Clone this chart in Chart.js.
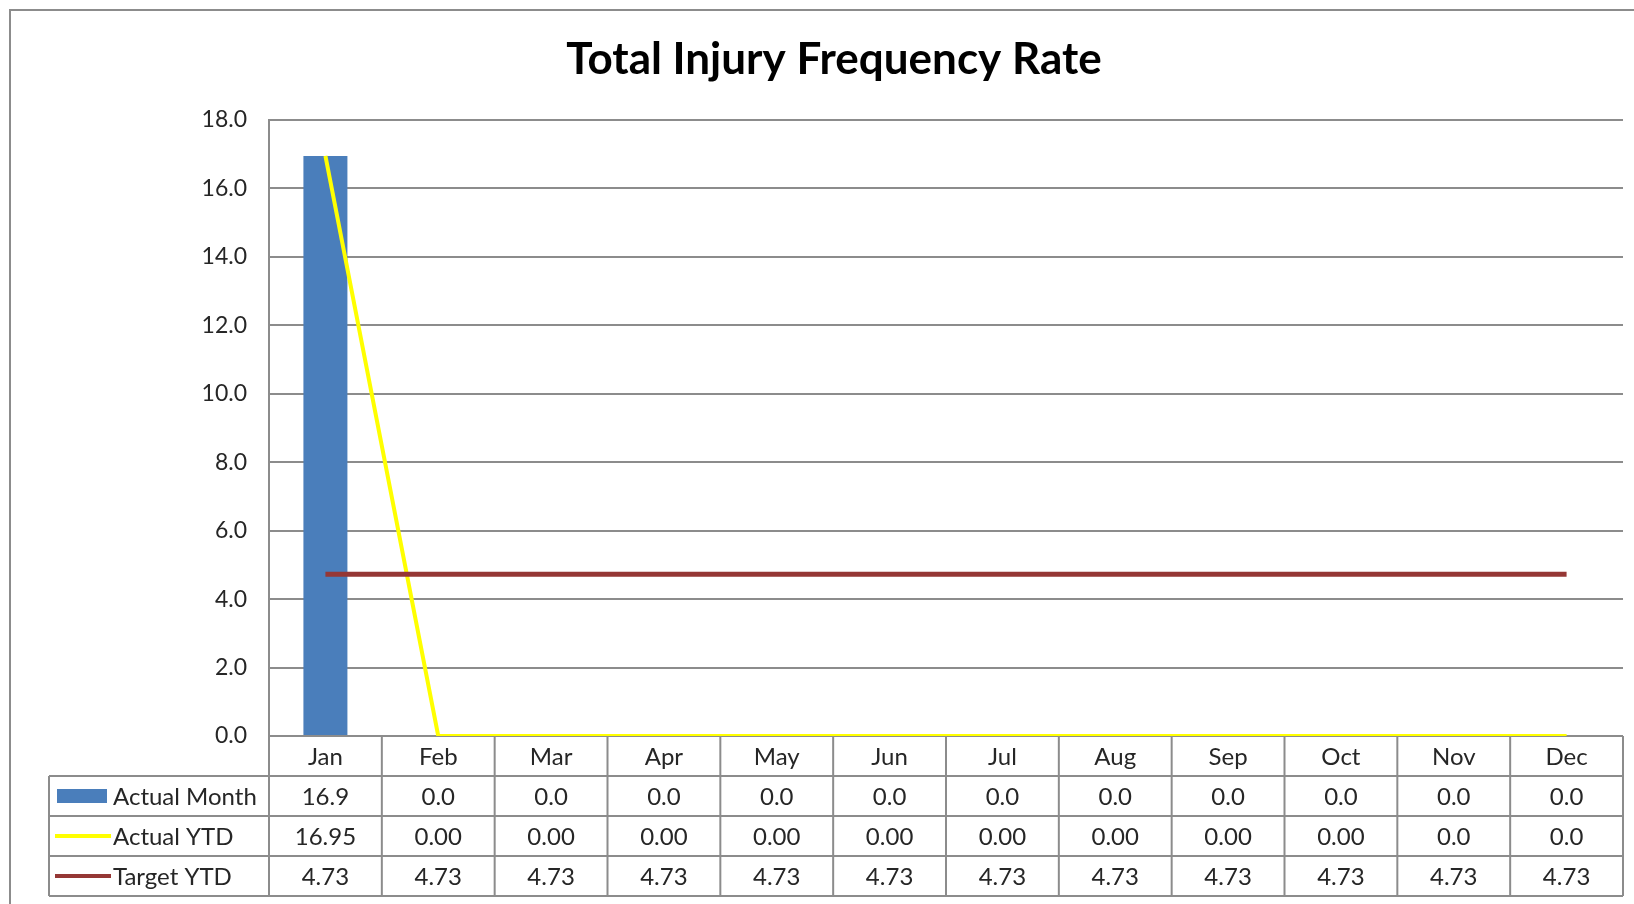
<!DOCTYPE html>
<html>
<head>
<meta charset="utf-8">
<title>Total Injury Frequency Rate</title>
<script src="https://cdn.jsdelivr.net/npm/chart.js@4/dist/chart.umd.min.js"></script>
<style>
  html, body { margin: 0; padding: 0; background: #fff; }
  #wrap { width: 1634px; height: 904px; }
</style>
</head>
<body>
<div id="wrap"><canvas id="tifrChart" width="1634" height="904"></canvas></div>
<script>
// data
const categories = ['Jan', 'Feb', 'Mar', 'Apr', 'May', 'Jun', 'Jul', 'Aug', 'Sep', 'Oct', 'Nov', 'Dec'];
const actualMonth = [16.95, 0, 0, 0, 0, 0, 0, 0, 0, 0, 0, 0];
const actualYtd = [16.95, 0, 0, 0, 0, 0, 0, 0, 0, 0, 0, 0];
const targetYtd = [4.73, 4.73, 4.73, 4.73, 4.73, 4.73, 4.73, 4.73, 4.73, 4.73, 4.73, 4.73];
const ytdDecimals = [2, 2, 2, 2, 2, 2, 2, 2, 2, 2, 1, 1];
const yMin = 0, yMax = 18, yStep = 2;

const FONT = 'Lato, "Open Sans", sans-serif';
const GRID = '#8c8c8c';
const BLUE = '#4a7ebb';
const YELLOW = '#ffff00';
const RED = '#953735';

// ==========================
// title, outer frame and data table
// ==========================
const tablePlugin = {
    id: 'dataTable',
    beforeDraw(chart) {
        const { ctx } = chart;
        ctx.save();
        ctx.strokeStyle = GRID;
        ctx.lineWidth = 2;
        ctx.beginPath();
        ctx.moveTo(10, 904);
        ctx.lineTo(10, 10);
        ctx.lineTo(1634, 10);
        ctx.stroke();

        ctx.fillStyle = '#000';
        ctx.font = 'bold 44px ' + FONT;
        ctx.textAlign = 'center';
        ctx.textBaseline = 'middle';
        ctx.fillText('Total Injury Frequency Rate', 834, 60);
        ctx.restore();
    },
    afterDatasetsDraw(chart) {
        const { ctx, chartArea } = chart;
        const x = chart.scales.x;
        const colW = (x.right - x.left) / categories.length;
        const top = chartArea.bottom;
        const rowH = 40;
        const legendLeft = 49;
        const bottom = top + rowH * 4;

        ctx.save();
        ctx.strokeStyle = GRID;
        ctx.lineWidth = 2;
        ctx.beginPath();
        // column lines
        for (let i = 0; i <= categories.length; i++) {
            const cx = x.left + i * colW;
            ctx.moveTo(cx, top);
            ctx.lineTo(cx, bottom);
        }
        // row lines
        for (let r = 1; r <= 4; r++) {
            const ry = top + r * rowH;
            ctx.moveTo(legendLeft, ry);
            ctx.lineTo(x.right, ry);
        }
        ctx.moveTo(legendLeft, top + rowH);
        ctx.lineTo(legendLeft, bottom);
        ctx.stroke();

        ctx.fillStyle = '#262626';
        ctx.font = '24px ' + FONT;
        ctx.textAlign = 'center';
        ctx.textBaseline = 'middle';

        const rows = [
            categories,
            actualMonth.map(v => v.toFixed(1)),
            actualYtd.map((v, i) => v.toFixed(ytdDecimals[i])),
            targetYtd.map(v => v.toFixed(2))
        ];
        rows.forEach((cells, r) => {
            const cy = top + r * rowH + rowH / 2 + 1;
            cells.forEach((txt, i) => {
                ctx.fillText(txt, x.getPixelForValue(i), cy);
            });
        });

        // legend keys
        const keyL = 57, keyR = 107;
        chart.data.datasets.forEach((ds, k) => {
            const cy = top + (k + 1) * rowH + rowH / 2;
            if (ds.type === 'bar') {
                ctx.fillStyle = ds.backgroundColor;
                ctx.fillRect(keyL, cy - 7, keyR - keyL, 14);
            } else {
                ctx.strokeStyle = ds.borderColor;
                ctx.lineWidth = 4;
                ctx.beginPath();
                ctx.moveTo(keyL - 2, cy);
                ctx.lineTo(keyR + 4, cy);
                ctx.stroke();
            }
            ctx.fillStyle = '#262626';
            ctx.textAlign = 'left';
            ctx.fillText(ds.label, 113, cy + 1);
        });
        ctx.restore();
    }
};

document.addEventListener('DOMContentLoaded', () => {
    const canvas = document.getElementById('tifrChart');

    new Chart(canvas, {
        data: {
            labels: categories,
            datasets: [
                {
                    type: 'bar',
                    label: 'Actual Month',
                    data: actualMonth,
                    backgroundColor: BLUE,
                    barPercentage: 0.39,
                    categoryPercentage: 1,
                    order: 3
                },
                {
                    type: 'line',
                    label: 'Actual YTD',
                    data: actualYtd,
                    borderColor: YELLOW,
                    borderWidth: 4,
                    pointRadius: 0,
                    tension: 0,
                    order: 2
                },
                {
                    type: 'line',
                    label: 'Target YTD',
                    data: targetYtd,
                    borderColor: RED,
                    borderWidth: 5,
                    pointRadius: 0,
                    tension: 0,
                    order: 1
                }
            ]
        },
        options: {
            responsive: false,
            animation: false,
            layout: { padding: { top: 120, right: 11, bottom: 168, left: 0 } },
            plugins: {
                legend: { display: false },
                title: { display: false },
                tooltip: { enabled: false }
            },
            scales: {
                x: { display: false },
                y: {
                    min: yMin,
                    max: yMax,
                    afterFit: s => { s.width = 269; },
                    ticks: {
                        stepSize: yStep,
                        padding: 22,
                        color: '#262626',
                        font: { family: FONT, size: 23 },
                        callback: v => Number(v).toFixed(1)
                    },
                    grid: { color: GRID, lineWidth: 2, drawTicks: false },
                    border: { display: true, color: GRID, width: 2 }
                }
            }
        },
        plugins: [tablePlugin]
    });
});
</script>
</body>
</html>
